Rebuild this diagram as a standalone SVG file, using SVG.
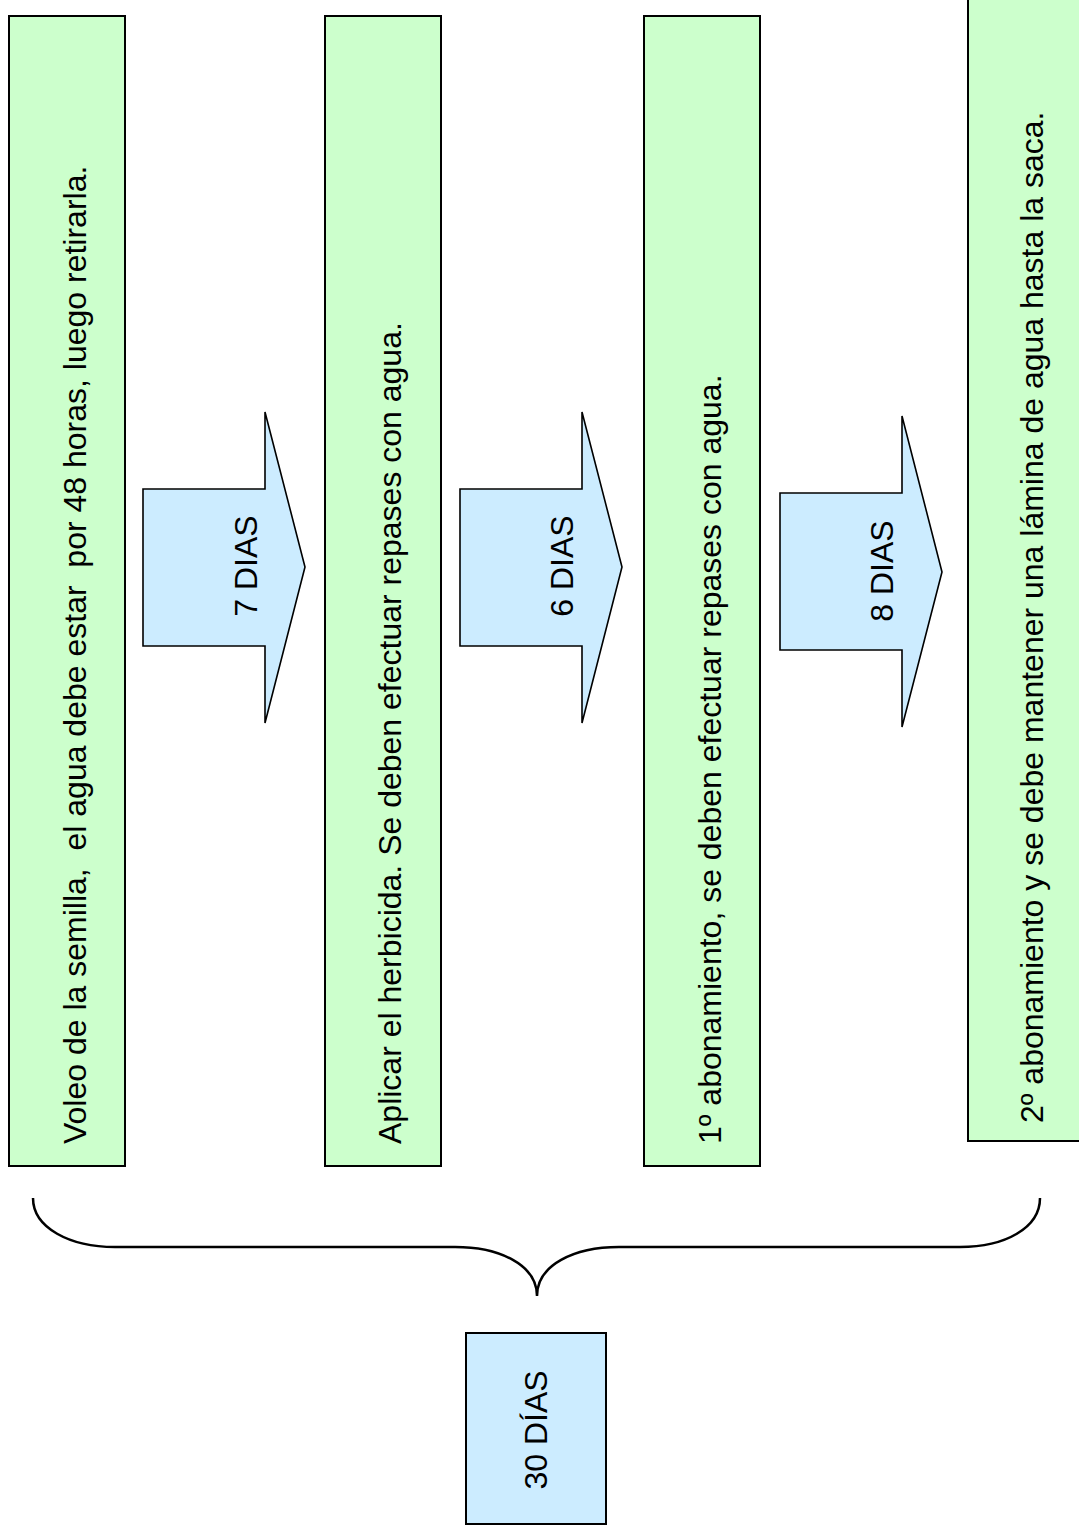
<svg xmlns="http://www.w3.org/2000/svg" width="1079" height="1534" viewBox="0 0 1079 1534">
<style>
.step{fill:#CCFFCC;stroke:#000;stroke-width:2}
.arr{fill:#CCECFF;stroke:#000;stroke-width:1.6;stroke-linejoin:miter}
.tot{fill:#CCECFF;stroke:#000;stroke-width:2}
.t{font-family:"Liberation Sans",Arial,sans-serif;font-size:32px;fill:#000}
.brace{fill:none;stroke:#000;stroke-width:2.5}
</style>
<rect width="1079" height="1534" fill="#fff"/>
<g id="step1">
<rect class="step" x="9" y="16" width="116" height="1150"/>
<text class="t" xml:space="preserve" transform="translate(86,1144) rotate(-90)">Voleo de la semilla,  el agua debe estar  por 48 horas, luego retirarla.</text>
</g>
<g id="step2">
<rect class="step" x="325" y="16" width="116" height="1150"/>
<text class="t" transform="translate(401,1144) rotate(-90)">Aplicar el herbicida. Se deben efectuar repases con agua.</text>
</g>
<g id="step3">
<rect class="step" x="644" y="16" width="116" height="1150"/>
<text class="t" transform="translate(721,1144) rotate(-90)">1º abonamiento, se deben efectuar repases con agua.</text>
</g>
<g id="step4">
<rect class="step" x="968" y="-10" width="120" height="1151"/>
<text class="t" transform="translate(1043,1123) rotate(-90)">2º abonamiento y se debe mantener una lámina de agua hasta la saca.</text>
</g>
<g id="connectors">
<g id="arrow1">
<path class="arr" d="M143,489 L265,489 L265,412 L305,567 L265,723 L265,646 L143,646 Z"/>
<text class="t" text-anchor="middle" transform="translate(257,566) rotate(-90)">7 DIAS</text>
</g>
<g id="arrow2">
<path class="arr" d="M460,489 L582,489 L582,412 L622,567 L582,723 L582,646 L460,646 Z"/>
<text class="t" text-anchor="middle" transform="translate(573,566) rotate(-90)">6 DIAS</text>
</g>
<g id="arrow3">
<path class="arr" d="M780,493 L902,493 L902,416 L942,572 L902,727 L902,650 L780,650 Z"/>
<text class="t" text-anchor="middle" transform="translate(893,571) rotate(-90)">8 DIAS</text>
</g>
<path id="brace" class="brace" d="M33,1198 C33,1228 70,1247 115,1247 L455,1247 C500,1247 537,1265 537,1296 C537,1265 574,1247 619,1247 L960,1247 C1005,1247 1040,1228 1040,1198"/>
</g>
<g id="total">
<rect class="tot" x="466" y="1333" width="140" height="191"/>
<text class="t" text-anchor="middle" transform="translate(547,1430) rotate(-90)">30 DÍAS</text>
</g>
</svg>
